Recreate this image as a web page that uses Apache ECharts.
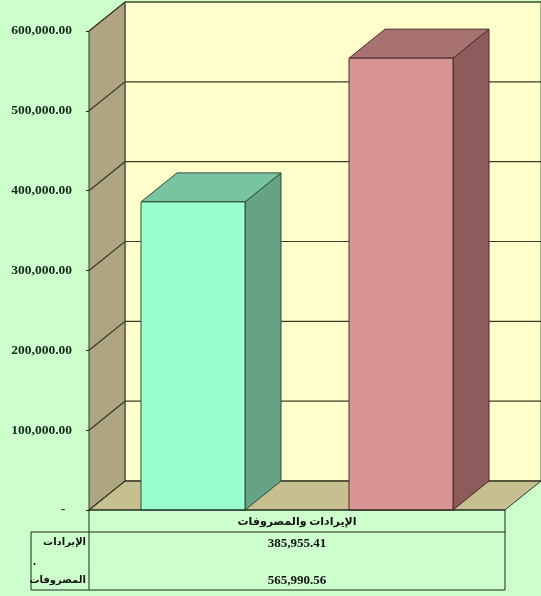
<!DOCTYPE html>
<html>
<head>
<meta charset="utf-8">
<script src="https://cdn.jsdelivr.net/npm/echarts/dist/echarts.min.js"></script>
<style>
  html, body { margin: 0; padding: 0; background: #ccffcc; }
  #chart { width: 541px; height: 596px; }
</style>
</head>
<body>
<div id="chart"></div>
<script>
const categories = ["الإيرادات والمصروفات"];
const seriesNames = ["الإيرادات", "المصروفات"];
const revenues = [385955.41];
const expenses = [565990.56];
const yTicks = [0, 100000, 200000, 300000, 400000, 500000, 600000];

// 3D depth offset of walls and bars
const DX = 36, DY = -29;
const FONT = '"Times New Roman", "Liberation Serif", "DejaVu Sans", serif';

const chart = echarts.init(document.getElementById("chart"));

const fmt = v => v.toLocaleString("en-US", { minimumFractionDigits: 2, maximumFractionDigits: 2 });

// walls, floor and gridlines
function renderWalls(params, api) {
  const cs = params.coordSys;
  const x0 = cs.x, x1 = cs.x + cs.width;
  const yb = cs.y + cs.height, yt = cs.y;
  const y = api.coord([0, api.value(1)])[1];
  const lineStyle = { stroke: "#3b3a22", lineWidth: 1.2 };
  const children = [];
  if (params.dataIndex === 0) {
    children.push({
      type: "rect",
      shape: { x: x0 + DX, y: yt + DY, width: x1 - x0, height: yb - yt },
      style: { fill: "#ffffcc", stroke: "#4d6b3e", lineWidth: 1 }
    });
    children.push({
      type: "polygon",
      shape: { points: [[x0, yt], [x0 + DX, yt + DY], [x0 + DX, yb + DY], [x0, yb]] },
      style: { fill: "#aea582", stroke: "#333", lineWidth: 1 }
    });
    children.push({
      type: "polygon",
      shape: { points: [[x0, yb], [x0 + DX, yb + DY], [x1 + DX, yb + DY], [x1, yb]] },
      style: { fill: "#c6bf8f", stroke: "#333", lineWidth: 1 }
    });
  }
  children.push({
    type: "polyline",
    shape: { points: [[x0, y], [x0 + DX, y + DY], [x1 + DX, y + DY]] },
    style: Object.assign({ fill: null }, lineStyle)
  });
  return { type: "group", children };
}

function makeBarRenderer(slot, colors) {
  return function (params, api) {
    const catW = api.size([1, 0])[0];
    const w = catW / 4;
    const top = api.coord([api.value(0), api.value(1)]);
    const base = api.coord([api.value(0), 0]);
    const cx = top[0] + (slot === 0 ? -catW / 4 : catW / 4);
    const x = cx - w / 2, yT = top[1], yB = base[1];
    const edge = { stroke: colors.edge, lineWidth: 1 };
    return {
      type: "group",
      children: [
        {
          type: "polygon",
          shape: { points: [[x + w, yT], [x + w + DX, yT + DY], [x + w + DX, yB + DY], [x + w, yB]] },
          style: Object.assign({ fill: colors.side }, edge)
        },
        {
          type: "polygon",
          shape: { points: [[x, yT], [x + DX, yT + DY], [x + w + DX, yT + DY], [x + w, yT]] },
          style: Object.assign({ fill: colors.top }, edge)
        },
        {
          type: "rect",
          shape: { x: x, y: yT, width: w, height: yB - yT },
          style: Object.assign({ fill: colors.front }, edge)
        }
      ]
    };
  };
}

const GL = 89, GT = 31, GW = 416, GH = 479;
const tableTop = GT + GH, headBot = 532, tableBot = 590, tableLeft = 31;
const midX = GL + GW / 2;

const tableLines = [
  [GL, tableTop, GL + GW, tableTop],
  [tableLeft, headBot, GL + GW, headBot],
  [tableLeft, tableBot, GL + GW, tableBot],
  [tableLeft, headBot, tableLeft, tableBot],
  [GL, tableTop, GL, tableBot],
  [GL + GW, tableTop, GL + GW, tableBot]
];

const graphic = tableLines.map(l => ({
  type: "line",
  shape: { x1: l[0], y1: l[1], x2: l[2], y2: l[3] },
  style: { stroke: "#1a2a1a", lineWidth: 1 },
  z: 10
}));

const textStyle = (t, x, y, size, align) => ({
  type: "text",
  x: x, y: y, z: 10,
  style: {
    text: t, fill: "#111", font: "bold " + size + "px " + FONT,
    textAlign: align, textVerticalAlign: "middle"
  }
});

graphic.push(textStyle(categories[0], midX, 522, 11, "center"));
graphic.push(textStyle(fmt(revenues[0]), midX, 544, 13, "center"));
graphic.push(textStyle(fmt(expenses[0]), midX, 581, 13, "center"));
graphic.push(textStyle(seriesNames[0], 86, 542, 10, "right"));
graphic.push(textStyle(".", 33, 562, 12, "left"));
graphic.push(textStyle(seriesNames[1], 86, 580, 10, "right"));

chart.setOption({
  backgroundColor: "#ccffcc",
  animation: false,
  grid: { left: GL, top: GT, width: GW, height: GH },
  xAxis: {
    type: "category",
    data: categories,
    show: false
  },
  yAxis: {
    type: "value",
    min: 0,
    max: 600000,
    interval: 100000,
    axisLine: { show: true, lineStyle: { color: "#222", width: 1 } },
    axisTick: { show: true, length: 3, lineStyle: { color: "#222" } },
    splitLine: { show: false },
    axisLabel: {
      margin: 17,
      color: "#162b1c",
      fontFamily: FONT,
      fontWeight: "bold",
      fontSize: 13.5,
      formatter: v => (v === 0 ? "-  " : fmt(v))
    }
  },
  graphic: graphic,
  series: [
    {
      type: "custom",
      name: "walls",
      clip: false,
      z: 1,
      renderItem: renderWalls,
      encode: { x: 0, y: 1 },
      data: yTicks.map(v => [0, v]),
      silent: true
    },
    {
      type: "custom",
      name: seriesNames[0],
      clip: false,
      z: 3,
      renderItem: makeBarRenderer(0, { front: "#99ffcc", top: "#78c4a2", side: "#66a386", edge: "#2f4a3a" }),
      encode: { x: 0, y: 1 },
      data: revenues.map((v, i) => [i, v])
    },
    {
      type: "custom",
      name: seriesNames[1],
      clip: false,
      z: 3,
      renderItem: makeBarRenderer(1, { front: "#d99594", top: "#a87272", side: "#8e5b5d", edge: "#4a2a2a" }),
      encode: { x: 0, y: 1 },
      data: expenses.map((v, i) => [i, v])
    }
  ]
});
</script>
</body>
</html>
